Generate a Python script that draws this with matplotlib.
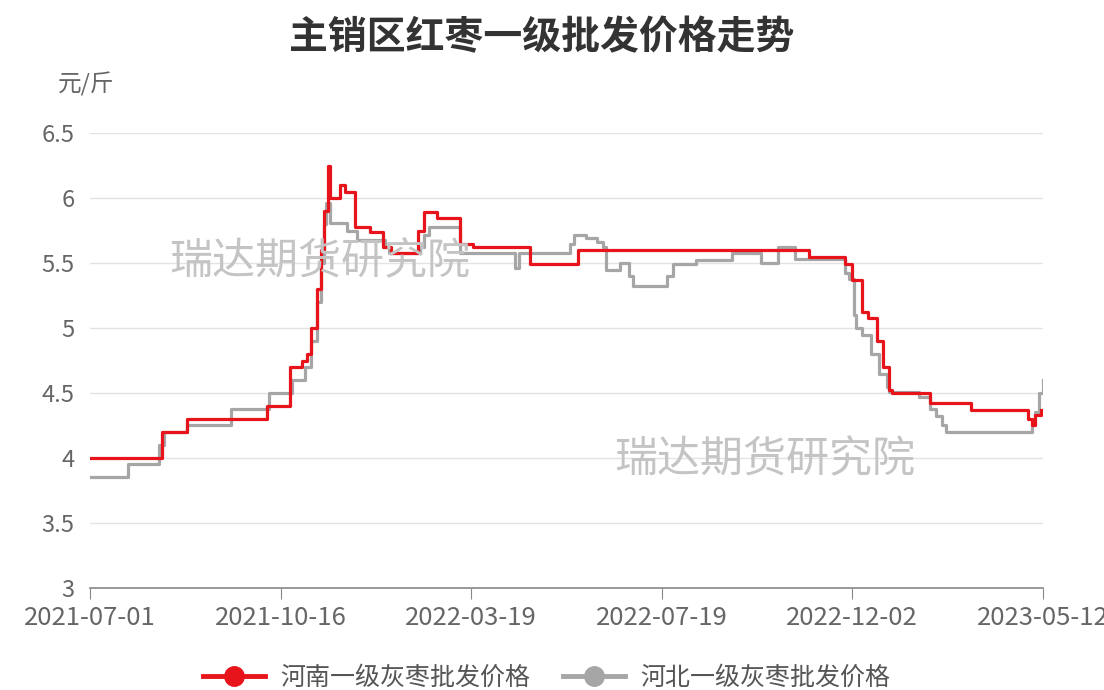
import matplotlib
matplotlib.use("Agg")
import matplotlib.pyplot as plt
from matplotlib.lines import Line2D

plt.rcParams['font.family'] = ['Noto Sans CJK SC', 'DejaVu Sans']

# trading-day index of each price change, and the price from that day on
henan_idx = [0, 38, 51, 93, 105, 111, 114, 116, 119, 121, 123, 125, 126, 131, 134, 139, 147,
             154, 158, 172, 175, 182, 194, 201, 231, 256, 377, 396, 400, 405, 408, 413, 416,
             419, 421, 441, 462, 492, 494, 496, 499]
henan_val = [4.0, 4.2, 4.3, 4.4, 4.7, 4.75, 4.8, 5.0, 5.3, 5.6, 5.9, 6.25, 6.0, 6.1, 6.05, 5.78, 5.74,
             5.62, 5.58, 5.75, 5.89, 5.85, 5.65, 5.62, 5.49, 5.6, 5.55, 5.49, 5.37, 5.12, 5.08, 4.9, 4.7,
             4.52, 4.5, 4.42, 4.37, 4.3, 4.25, 4.33, 4.37]

hebei_idx = [0, 20, 36, 39, 51, 74, 94, 106, 113, 116, 119, 121, 123, 124, 126, 135, 140,
             155, 157, 173, 175, 178, 194, 223, 225, 252, 254, 260, 266, 269, 271, 278, 283,
             285, 303, 306, 318, 337, 352, 361, 370, 396, 398, 401, 402, 405, 410, 414, 418,
             419, 435, 441, 444, 447, 449, 494, 496, 498, 500]
hebei_val = [3.85, 3.95, 4.1, 4.2, 4.25, 4.38, 4.5, 4.6, 4.7, 4.9, 5.2, 5.5, 5.8, 5.96, 5.81, 5.75, 5.68,
             5.62, 5.58, 5.62, 5.72, 5.78, 5.58, 5.46, 5.58, 5.65, 5.72, 5.69, 5.66, 5.62, 5.45, 5.5, 5.4,
             5.32, 5.4, 5.49, 5.52, 5.58, 5.5, 5.62, 5.53, 5.42, 5.38, 5.1, 5.0, 4.95, 4.8, 4.65, 4.55,
             4.51, 4.47, 4.38, 4.32, 4.25, 4.2, 4.25, 4.35, 4.5, 4.6]

tick_idx = [0, 100, 200, 300, 400, 500]
tick_labels = ['2021-07-01', '2021-10-16', '2022-03-19', '2022-07-19', '2022-12-02', '2023-05-12']
y_ticks = [3, 3.5, 4, 4.5, 5, 5.5, 6, 6.5]
y_labels = ['3', '3.5', '4', '4.5', '5', '5.5', '6', '6.5']

red = '#e8141b'
gray = '#a6a6a6'
txt = '#666666'

fig = plt.figure(figsize=(11.04, 6.9), dpi=100)
ax = fig.add_axes([0.0815, 0.148, 0.8632, 0.659])

ax.plot(hebei_idx, hebei_val, drawstyle='steps-post', color=gray, lw=2.3, zorder=3)
ax.plot(henan_idx, henan_val, drawstyle='steps-post', color=red, lw=2.3, zorder=4)

ax.set_xlim(0, 500)
ax.set_ylim(3, 6.5)
ax.set_yticks(y_ticks)
ax.set_yticklabels(y_labels)
ax.set_xticks(tick_idx)
ax.set_xticklabels(tick_labels)
ax.grid(axis='y', color='#e3e3e3', lw=1)
ax.set_axisbelow(True)
for s in ['top', 'right', 'left']:
    ax.spines[s].set_visible(False)
ax.spines['bottom'].set_color('#888888')
ax.spines['bottom'].set_linewidth(1.2)
ax.tick_params(axis='y', length=0, labelsize=17, labelcolor=txt, pad=11)
ax.tick_params(axis='x', length=8, color='#888888', labelsize=18.5, labelcolor=txt, pad=4)

fig.text(0.491, 0.945, '主销区红枣一级批发价格走势', ha='center', va='center',
         fontsize=28, fontweight='bold', color='#333333')
fig.text(0.052, 0.878, '元/斤', ha='left', va='center', fontsize=17, color=txt)

# watermarks
fig.text(0.29, 0.62, '瑞达期货研究院', ha='center', va='center', fontsize=31, color='#c4c4c4', zorder=1)
fig.text(0.693, 0.333, '瑞达期货研究院', ha='center', va='center', fontsize=31, color='#c4c4c4', zorder=1)

handles = [Line2D([], [], color=red, lw=3.5, marker='o', markersize=14),
           Line2D([], [], color=gray, lw=3.5, marker='o', markersize=14)]
fig.legend(handles, ['河南一级灰枣批发价格', '河北一级灰枣批发价格'], loc='center',
           bbox_to_anchor=(0.495, 0.018), ncol=2, frameon=False, fontsize=18,
           handlelength=2.5, handletextpad=0.6, columnspacing=1.3, labelcolor='#555555')

fig.savefig('out.png', dpi=100)
